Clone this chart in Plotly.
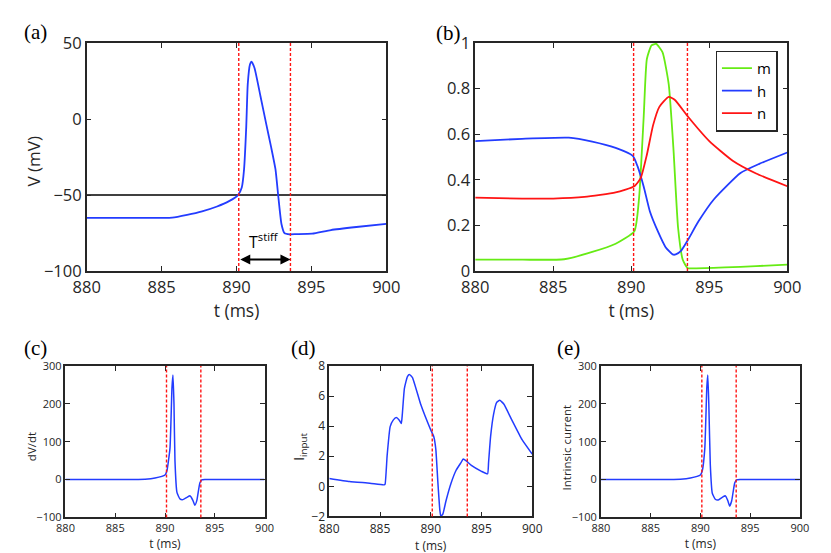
import plotly.graph_objects as go

W, H = 831, 553

# spike boundaries (ms)
t_bounds = [890.15, 893.6]
v_thresh = -50

# (a) membrane potential
t_v = [880, 883, 885.7, 886.7, 887.7, 888.7, 889.5, 890.1, 890.35, 890.5, 890.65, 890.75,
       890.9, 891.0, 891.2, 891.6, 892.0, 892.3, 892.6, 892.8, 893.0, 893.2, 893.55, 894.0,
       895.05, 896.3, 898.0, 900]
v = [-65, -65, -64.8, -63, -60.7, -57.5, -54, -50, -45, -33.4, -5, 23,
     36, 37.8, 33.6, 15, -4, -18, -33, -52, -69, -75, -75.8, -75.7,
     -75.4, -73, -71, -69]

# (b) gating variables
t_gate = [880, 883, 885.7, 887.5, 889, 890.2, 890.5, 890.8, 891.0, 891.3, 891.6, 892.0,
          892.4, 892.7, 893.0, 893.3, 893.6, 894.0, 896, 898, 900]
m = [0.05, 0.05, 0.052, 0.084, 0.12, 0.175, 0.32, 0.68, 0.93, 0.99, 0.996, 0.96,
     0.82, 0.54, 0.19, 0.05, 0.014, 0.012, 0.016, 0.022, 0.028]
t_h = [880, 883, 886, 887.5, 889, 890.1, 890.4, 890.8, 891.2, 891.7, 892.2, 892.65,
       892.85, 893.2, 893.6, 894.3, 895.3, 897, 898.2, 900]
h = [0.57, 0.58, 0.585, 0.568, 0.54, 0.505, 0.46, 0.37, 0.26, 0.175, 0.105, 0.073,
     0.073, 0.09, 0.133, 0.217, 0.315, 0.43, 0.47, 0.52]
t_n = [880, 883, 885, 887, 889, 890.2, 890.6, 891.0, 891.4, 891.8, 892.4, 892.8,
       893.6, 895, 896.5, 898, 900]
n = [0.322, 0.318, 0.318, 0.325, 0.345, 0.372, 0.407, 0.51, 0.64, 0.72, 0.764, 0.75,
     0.68, 0.57, 0.484, 0.428, 0.372]

# (c) dV/dt
t_dv = [880, 886, 888, 889, 890, 890.2, 890.5, 890.7, 890.8, 890.9, 891.0, 891.2,
        891.5, 891.8, 892.2, 892.5, 892.8, 893.0, 893.2, 893.5, 893.7, 894, 897, 900]
dvdt = [0, 0, 1, 4, 12, 24, 83, 243, 276, 200, 50, -34,
        -51, -53, -47, -43, -55, -68, -55, -9, -1, 0, 0, 0]

# (d) input current
t_in = [880, 882, 884, 885.4, 885.5, 885.7, 886, 886.3, 886.6, 886.9, 887.1, 887.2,
        887.4, 887.7, 887.9, 888.2, 889, 890, 890.3, 890.5, 890.7, 890.9, 891.0, 891.2,
        891.5, 892, 892.5, 893, 893.2, 893.5, 894, 895, 895.6, 895.7, 895.9, 896.2,
        896.5, 896.8, 897.2, 898, 899, 900]
i_in = [0.53, 0.32, 0.21, 0.1, 0.15, 2.03, 3.97, 4.4, 4.57, 4.4, 4.18, 4.8,
        6.5, 7.3, 7.44, 7.23, 5.47, 3.75, 3.3, 2.46, 0.3, -1.6, -2.0, -1.83,
        -0.97, 0.21, 1.07, 1.6, 1.82, 1.69, 1.39, 1.0, 0.83, 1.6, 3.32, 4.82,
        5.58, 5.72, 5.47, 4.4, 3.1, 2.14]

# (e) intrinsic current
t_ic = [880, 886, 888, 889, 890, 890.2, 890.45, 890.65, 890.75, 890.85, 891.0, 891.2,
        891.5, 891.8, 892.2, 892.5, 892.75, 892.95, 893.15, 893.45, 893.65, 894, 897, 900]
i_ic = [0, 0, 1, 4, 12, 24, 83, 243, 276, 200, 40, -36,
        -52, -54, -47, -43, -55, -70, -56, -9, -1, 0, 0, 0]

BLUE = "rgb(35,60,255)"
GREEN = "rgb(102,235,20)"
RED = "rgb(255,20,20)"
INK = "#262626"
SANS = "Open Sans"

# plot boxes in pixels: (left, right, top, bottom)
boxes = {
    "a": (67, 377, 24, 262),
    "b": (469, 792, 24, 262),
    "c": (45, 251, 361, 519),
    "d": (318, 528, 361, 518),
    "e": (599, 805, 361, 519),
}
labels_pos = {"a": (0, 13), "b": (426, 14), "c": (0, 342), "d": (276, 342), "e": (552, 342)}
# y titles: text, x, y (pixel centre), font size
ytitles = [("V (mV)", 12, 148, 17), ("dV/dt", 10, 445, 11.5),
           ("I<sub>input</sub>", 287, 445, 14), ("Intrinsic current", 563, 447, 11.5)]

fig = go.Figure()

def axis_style(size, **kw):
    d = dict(showline=True, linecolor=INK, linewidth=1.5, mirror="ticks", ticks="inside",
             ticklen=5, tickcolor=INK, tickwidth=1.3, showgrid=False, zeroline=False,
             tickfont=dict(family=SANS, size=size, color=INK))
    d.update(kw)
    return d

layout = {}
for k, key in enumerate("abcde"):
    l, r, t, b = boxes[key]
    idx = "" if k == 0 else str(k + 1)
    big = key in "ab"
    fs = 16.5 if big else 11
    layout["xaxis" + idx] = axis_style(
        fs, domain=[l / W, r / W], anchor="y" + idx, range=[880, 900], dtick=5,
        title=dict(text="t (ms)", font=dict(family=SANS, size=17.5 if big else 12, color=INK),
                   standoff=2 if big else 0))
    layout["yaxis" + idx] = dict(domain=[1 - b / H, 1 - t / H], anchor="x" + idx)

layout["yaxis"].update(axis_style(16.5, range=[-100, 50], dtick=50))
layout["yaxis2"].update(axis_style(16.5, range=[0, 1], dtick=0.2, tickformat="~g"))
layout["yaxis3"].update(axis_style(11, range=[-100, 300], dtick=100))
layout["yaxis4"].update(axis_style(12, range=[-2, 8], dtick=2))
layout["yaxis5"].update(axis_style(11, range=[-100, 300], dtick=100))
layout["xaxis4"]["tickfont"]["size"] = 12

line_w = 1.8
fig.add_trace(go.Scatter(x=[880, 900], y=[v_thresh, v_thresh], mode="lines",
                         line=dict(color="black", width=1.5), showlegend=False, xaxis="x", yaxis="y"))
fig.add_trace(go.Scatter(x=t_v, y=v, mode="lines", line=dict(color=BLUE, width=line_w, shape="spline", smoothing=0.5),
                         showlegend=False, xaxis="x", yaxis="y"))
fig.add_trace(go.Scatter(x=t_gate, y=m, name="m", mode="lines", line=dict(color=GREEN, width=line_w, shape="spline", smoothing=0.5),
                         xaxis="x2", yaxis="y2"))
fig.add_trace(go.Scatter(x=t_h, y=h, name="h", mode="lines", line=dict(color=BLUE, width=line_w, shape="spline", smoothing=0.5),
                         xaxis="x2", yaxis="y2"))
fig.add_trace(go.Scatter(x=t_n, y=n, name="n", mode="lines", line=dict(color=RED, width=line_w, shape="spline", smoothing=0.5),
                         xaxis="x2", yaxis="y2"))
fig.add_trace(go.Scatter(x=t_dv, y=dvdt, mode="lines", line=dict(color=BLUE, width=1.5, shape="spline", smoothing=0.4),
                         showlegend=False, xaxis="x3", yaxis="y3"))
fig.add_trace(go.Scatter(x=t_in, y=i_in, mode="lines", line=dict(color=BLUE, width=1.5, shape="spline", smoothing=0.4),
                         showlegend=False, xaxis="x4", yaxis="y4"))
fig.add_trace(go.Scatter(x=t_ic, y=i_ic, mode="lines", line=dict(color=BLUE, width=1.5, shape="spline", smoothing=0.4),
                         showlegend=False, xaxis="x5", yaxis="y5"))

shapes = []
for k in range(5):
    idx = "" if k == 0 else str(k + 1)
    for tb in t_bounds:
        shapes.append(dict(type="line", xref="x" + idx, yref="y" + idx + " domain", x0=tb, x1=tb, y0=0, y1=1,
                           line=dict(color=RED, width=1.4, dash="3px,2px"), layer="above"))

annotations = []
for key, (px, py) in labels_pos.items():
    annotations.append(dict(text="(" + key + ")", x=px / W, y=1 - py / H, xref="paper", yref="paper",
                            xanchor="left", yanchor="middle", showarrow=False,
                            font=dict(family="Liberation Serif", size=21, color="black")))
for txt, px, py, fs in ytitles:
    annotations.append(dict(text=txt, x=px / W, y=1 - py / H, xref="paper", yref="paper",
                            xanchor="center", yanchor="middle", textangle=-90, showarrow=False,
                            font=dict(family=SANS, size=fs, color=INK)))
# T_stiff double arrow
annotations.append(dict(x=t_bounds[1], y=-92.4, ax=t_bounds[0], ay=-92.4, xref="x", yref="y", axref="x", ayref="y",
                        text="", showarrow=True, arrowhead=2, arrowside="end+start", arrowsize=1,
                        arrowwidth=2, arrowcolor="black"))
annotations.append(dict(x=891.85, y=-80, xref="x", yref="y", text="T<sup>stiff</sup>",
                        showarrow=False, font=dict(family=SANS, size=16, color="black")))

fig.update_layout(**layout)
fig.update_layout(
    width=W, height=H, margin=dict(l=0, r=0, t=0, b=0),
    paper_bgcolor="white", plot_bgcolor="white",
    shapes=shapes, annotations=annotations,
    legend=dict(x=782 / W, y=1 - 32 / H, xanchor="right", yanchor="top", bgcolor="white",
                bordercolor=INK, borderwidth=1.3, font=dict(family=SANS, size=15, color="black"),
                tracegroupgap=0, itemwidth=30),
)

fig.write_html("out.html")
